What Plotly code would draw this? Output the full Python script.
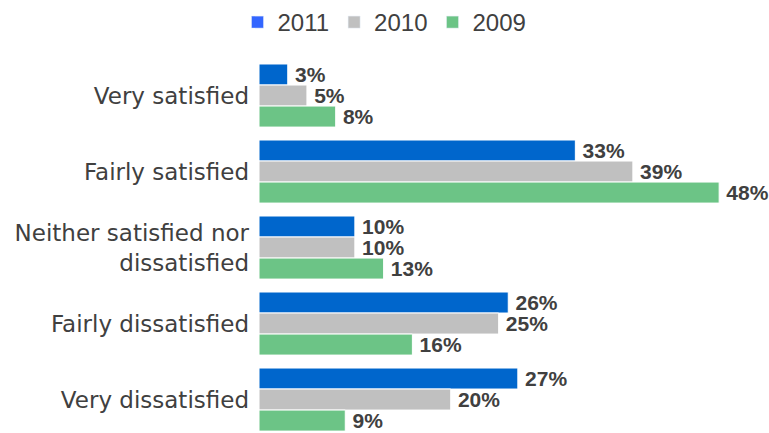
import plotly.graph_objects as go

categories = [
    "Very satisfied",
    "Fairly satisfied",
    "Neither satisfied nor<br>dissatisfied",
    "Fairly dissatisfied",
    "Very dissatisfied",
]
years = ["2011", "2010", "2009"]
values_2011 = [3, 33, 10, 26, 27]
values_2010 = [5, 39, 10, 25, 20]
values_2009 = [8, 48, 13, 16, 9]

bar_colors = {"2011": "#0066CC", "2010": "#C0C0C0", "2009": "#6CC486"}
legend_colors = {"2011": "#3366FF", "2010": "#C0C0C0", "2009": "#6CC486"}
series = {"2011": values_2011, "2010": values_2010, "2009": values_2009}

TEXT = "#404040"

fig = go.Figure()

for yr in years:
    vals = series[yr]
    fig.add_trace(go.Bar(
        y=categories,
        x=vals,
        orientation="h",
        name=yr,
        showlegend=False,
        marker=dict(color=bar_colors[yr], line=dict(color="white", width=1)),
        # thin space keeps the value label a little clear of the bar end
        text=[f"\u2009{v}%" for v in vals],
        textposition="outside",
        constraintext="none",
        cliponaxis=False,
        textfont=dict(family="Liberation Sans, Arial", size=21, color=TEXT, weight="bold"),
    ))

# legend entries drawn on a hidden helper axis so they do not take bar slots
for yr in years:
    fig.add_trace(go.Bar(
        x=[None], y=[None], name=yr, xaxis="x2", yaxis="y2",
        marker=dict(color=legend_colors[yr]),
    ))

fig.update_layout(
    width=769,
    height=433,
    margin=dict(l=259, r=0, t=57, b=0),
    paper_bgcolor="white",
    plot_bgcolor="white",
    barmode="group",
    bargap=0.17,
    bargroupgap=0,
    showlegend=True,
    legend=dict(
        orientation="h",
        x=0.5, xref="container", xanchor="center",
        y=1.0, yref="container", yanchor="top",
        font=dict(family="Liberation Sans, Arial", size=24, color=TEXT),
        itemclick=False,
    ),
    xaxis=dict(visible=False, range=[0, 53.2], fixedrange=True),
    yaxis=dict(
        categoryorder="array",
        categoryarray=categories,
        range=[4.44, -0.507],
        showgrid=False,
        zeroline=False,
        showline=False,
        ticks="",
        ticklabelstandoff=9,
        tickfont=dict(family="DejaVu Sans", size=23, color=TEXT),
    ),
    xaxis2=dict(visible=False, anchor="y2", overlaying="x"),
    yaxis2=dict(visible=False, anchor="x2", overlaying="y"),
)

fig.write_html("out.html")
